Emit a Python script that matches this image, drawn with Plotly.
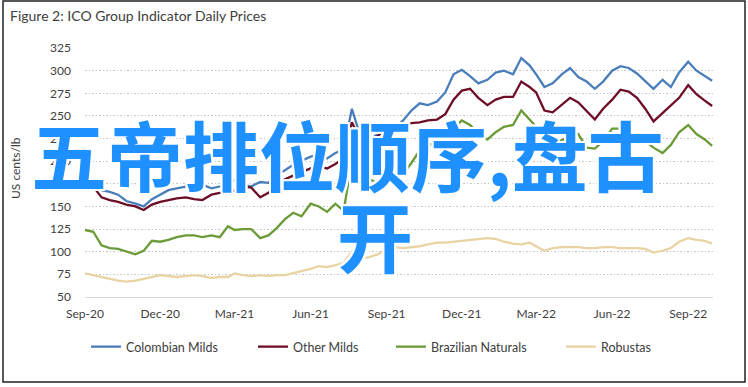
import plotly.graph_objects as go

# ---- data ----
months = ["2020-09", "2020-10", "2020-11", "2020-12", "2021-01", "2021-02", "2021-03",
          "2021-04", "2021-05", "2021-06", "2021-07", "2021-08", "2021-09", "2021-10",
          "2021-11", "2021-12", "2022-01", "2022-02", "2022-03", "2022-04", "2022-05",
          "2022-06", "2022-07", "2022-08", "2022-09"]
days = ["01", "11", "21"]
dates = [f"{m}-{d}" for m in months for d in days] + ["2022-09-30"]

colombian_milds = [181, 177, 168, 166, 163, 156, 153, 150, 158, 163, 168, 170,
                   172, 175, 174, 170, 172, 176, 179, 174, 172, 177, 176, 185,
                   190, 196, 200, 205, 207, 203, 209, 213, 258, 225, 223, 230,
                   234, 237, 245, 256, 264, 262, 266, 276, 296, 301, 294, 286,
                   290, 298, 300, 296, 314, 306, 296, 282, 286, 296, 303, 293,
                   288, 280, 288, 300, 305, 303, 297, 289, 280, 290, 282, 298,
                   310, 300, 294, 289]
other_milds = [179, 172, 160, 157, 155, 152, 150, 146, 152, 155, 157, 159,
               160, 158, 157, 163, 165, 165, 168, 171, 171, 160, 165, 172,
               180, 184, 188, 192, 194, 192, 197, 203, 243, 222, 220, 228,
               236, 238, 240, 242, 243, 245, 246, 252, 268, 278, 280, 270,
               262, 268, 271, 271, 288, 282, 276, 256, 254, 262, 270, 265,
               256, 246, 258, 268, 279, 277, 270, 258, 244, 253, 262, 270,
               284, 274, 267, 261]
brazilian_naturals = [124, 122, 107, 104, 103, 100, 97, 101, 112, 111, 113, 116,
                      118, 118, 116, 118, 116, 128, 124, 125, 125, 115, 118, 126,
                      136, 143, 139, 153, 150, 144, 153, 145, 200, 185, 180, 176,
                      185, 188, 186, 198, 212, 218, 220, 228, 236, 245, 240, 230,
                      224, 232, 238, 240, 256, 246, 238, 224, 221, 223, 228, 230,
                      215, 214, 222, 236, 236, 231, 226, 222, 215, 209, 218, 232,
                      240, 230, 224, 217]
robustas = [76, 74, 72, 70, 68, 67, 68, 70, 72, 74, 73, 72,
            73, 74, 73, 71, 72, 72, 76, 74, 73, 74, 73, 74,
            74, 76, 78, 81, 84, 83, 85, 88, 100, 92, 94, 97,
            103, 105, 104, 105, 106, 108, 110, 110, 111, 112, 113, 114,
            115, 114, 111, 109, 108, 110, 106, 101, 104, 105, 105, 105,
            104, 104, 105, 105, 104, 104, 104, 103, 99, 101, 104, 111,
            115, 113, 112, 109]

tick_dates = ["2020-09-01", "2020-12-01", "2021-03-01", "2021-06-01", "2021-09-01",
              "2021-12-01", "2022-03-01", "2022-06-01", "2022-09-01"]
tick_labels = ["Sep-20", "Dec-20", "Mar-21", "Jun-21", "Sep-21", "Dec-21",
               "Mar-22", "Jun-22", "Sep-22"]
y_ticks = [50, 75, 100, 125, 150, 175, 200, 225, 250, 275, 300, 325]

series = [
    ("Colombian Milds", colombian_milds, "#4A7EBB", "legend"),
    ("Other Milds", other_milds, "#6E0E26", "legend2"),
    ("Brazilian Naturals", brazilian_naturals, "#6B9B37", "legend3"),
    ("Robustas", robustas, "#EAD3A2", "legend4"),
]

FONT = "Lato, 'Open Sans', sans-serif"
TXT = "#404040"

fig = go.Figure()
for name, vals, col, lg in series:
    fig.add_trace(go.Scatter(x=dates, y=vals, name=name, mode="lines",
                             line=dict(color=col, width=2.3), legend=lg,
                             hoverinfo="skip"))

# plot area: x 85..713, y 48..297
L, R, T, B = 85, 35, 48, 90
W, H = 748, 387
pw, ph = W - L - R, H - T - B


def px(x):
    return (x - L) / pw


def py(y):
    return (H - B - y) / ph


leg_common = dict(orientation="h", yanchor="middle", xanchor="left",
                  font=dict(family=FONT, size=12.5, color=TXT),
                  bgcolor="rgba(0,0,0,0)", itemwidth=30)
legend_x = [86, 253, 391, 561]

fig.update_layout(
    width=W, height=H,
    margin=dict(l=L, r=R, t=T, b=B, autoexpand=False),
    paper_bgcolor="white", plot_bgcolor="white",
    font=dict(family=FONT, color=TXT, size=12),
    showlegend=True, hovermode=False,
    legend=dict(x=px(legend_x[0]), y=py(347), **leg_common),
    legend2=dict(x=px(legend_x[1]), y=py(347), **leg_common),
    legend3=dict(x=px(legend_x[2]), y=py(347), **leg_common),
    legend4=dict(x=px(legend_x[3]), y=py(347), **leg_common),
    xaxis=dict(type="date", range=["2020-09-01", "2022-10-01"],
               tickvals=tick_dates, ticktext=tick_labels,
               showgrid=False, showline=True, linecolor="#D9D9D9", linewidth=1,
               ticks="", ticklabelstandoff=6, showspikes=False,
               tickfont=dict(family=FONT, size=12, color=TXT), zeroline=False),
    yaxis=dict(range=[49.9, 325.1], tickvals=y_ticks, showgrid=True,
               gridcolor="#C6C6C6", griddash="1.5px,2px", gridwidth=1,
               showline=False, zeroline=False, ticks="", ticklabelstandoff=13,
               showspikes=False,
               tickfont=dict(family=FONT, size=12, color=TXT)),
)

# frame around the whole figure
fig.add_shape(type="rect", xref="paper", yref="paper",
              x0=px(3), x1=px(745), y0=py(382), y1=py(1),
              line=dict(color="#222222", width=1.5), fillcolor="rgba(0,0,0,0)",
              layer="above")

# title
fig.add_annotation(text="Figure 2: ICO Group Indicator Daily Prices",
                   xref="paper", yref="paper", x=px(8), y=py(16),
                   xanchor="left", yanchor="middle", showarrow=False,
                   font=dict(family=FONT, size=14, color=TXT))

# y-axis title
fig.add_annotation(text="US cents/lb", xref="paper", yref="paper",
                   x=px(15), y=py(168), textangle=-90, showarrow=False,
                   xanchor="center", yanchor="middle",
                   font=dict(family=FONT, size=12, color=TXT))

# overlay text
halo = ("2px 2px 0 #fff, -2px -2px 0 #fff, 2px -2px 0 #fff, -2px 2px 0 #fff, "
        "0 2px 0 #fff, 0 -2px 0 #fff, 2px 0 0 #fff, -2px 0 0 #fff")
big = dict(family="'Noto Sans CJK SC', sans-serif", size=76, color="#1E90FF",
           weight="bold", shadow=halo)
fig.add_annotation(text="五帝排位顺序,盘古", xref="paper", yref="paper",
                   x=px(29), y=py(153), xanchor="left", yanchor="middle",
                   showarrow=False, font=big)
fig.add_annotation(text="开", xref="paper", yref="paper",
                   x=px(375), y=py(234), xanchor="center", yanchor="middle",
                   showarrow=False, font=big)

fig.write_html("out.html",
               config={"displayModeBar": False, "staticPlot": True},
               post_script="document.body.style.margin='0';"
                           "document.body.style.overflow='hidden';")
